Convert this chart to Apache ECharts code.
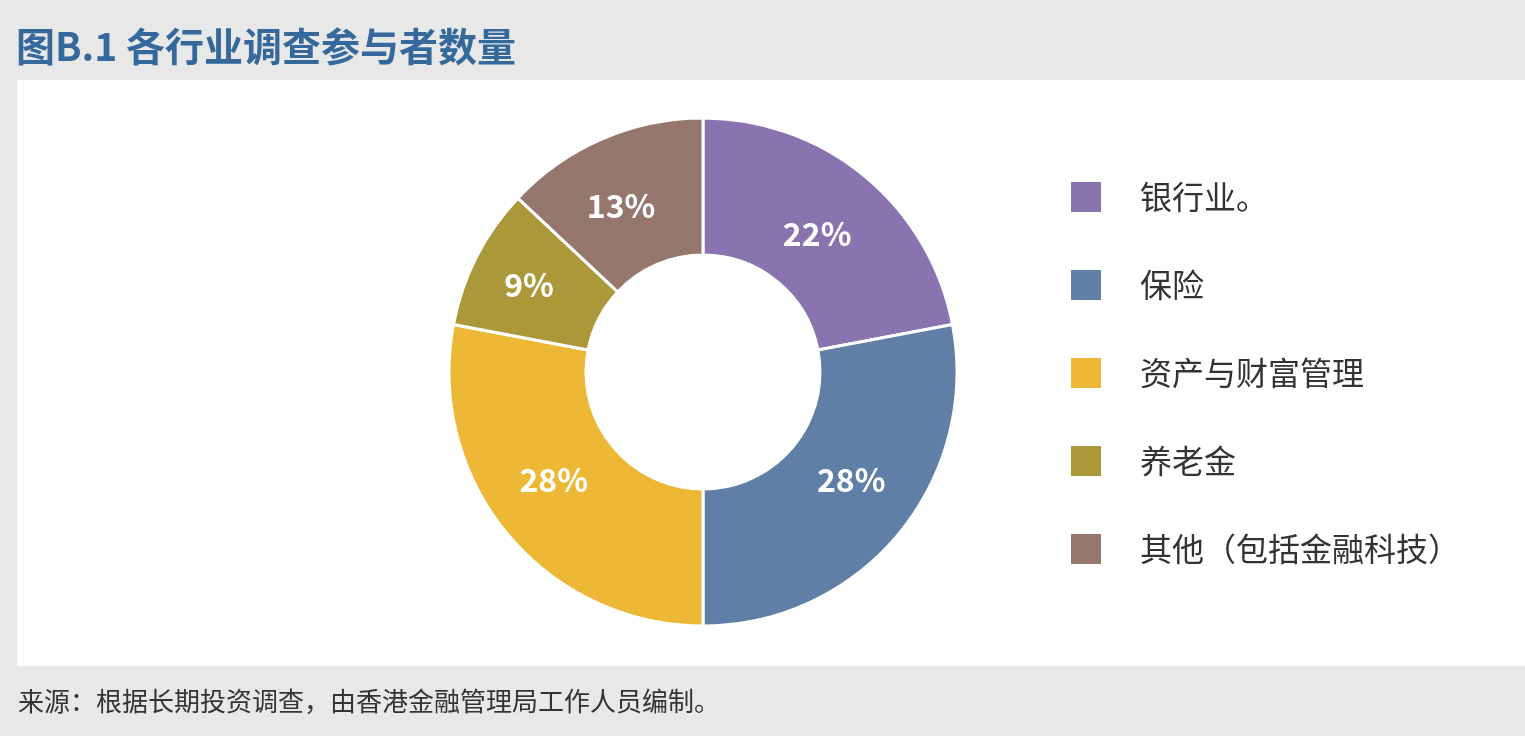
<!DOCTYPE html>
<html>
<head>
<meta charset="utf-8">
<script src="https://cdn.jsdelivr.net/npm/echarts@6/dist/echarts.min.js"></script>
<style>
  html, body { margin: 0; padding: 0; background: #e8e8e8; }
  #chart { width: 1525px; height: 736px; }
</style>
</head>
<body>
<div id="chart"></div>
<script>
var categories = ['银行业。', '保险', '资产与财富管理', '养老金', '其他（包括金融科技）'];
var shares = [22, 28, 28, 9, 13];
var colors = ['#8a74b0', '#5f7fa6', '#ecb836', '#ab9838', '#96776e'];
// small nudges so the percentage labels sit where the original puts them
var labelNudge = [[-6, 7], [3, -12], [-4, -12], [-6, -2], [-7, 7]];

var myChart = echarts.init(document.getElementById('chart'));
var font = '"Noto Sans CJK SC", "Noto Sans", sans-serif';

var pieData = [];
categories.forEach(function (name, i) {
    pieData.push({
        name: name,
        value: shares[i],
        itemStyle: { color: colors[i] },
        label: { offset: labelNudge[i] }
    });
});

var option = {
    backgroundColor: '#e8e8e8',
    graphic: [{
        type: 'rect',
        z: -10,
        shape: { x: 17, y: 80, width: 1508, height: 586 },
        style: { fill: '#ffffff' }
    }],
    title: [{
        text: '图B.1 各行业调查参与者数量',
        left: 11,
        top: 22,
        textStyle: { fontFamily: font, fontSize: 39, fontWeight: 'bold', color: '#36699b' }
    }, {
        text: '来源：根据长期投资调查，由香港金融管理局工作人员编制。',
        left: 13,
        top: 683,
        textStyle: { fontFamily: font, fontSize: 26, fontWeight: 'normal', color: '#333333' }
    }],
    legend: {
        orient: 'vertical',
        left: 1064,
        top: 175,
        itemWidth: 32,
        itemHeight: 32,
        itemGap: 54,
        icon: 'rect',
        textStyle: { fontFamily: font, fontSize: 32, color: '#333333', padding: [0, 0, 0, 33] },
        data: categories
    },
    series: [{
        type: 'pie',
        center: [703, 372],
        radius: [117, 254],
        startAngle: 90,
        clockwise: true,
        silent: true,
        itemStyle: { borderColor: '#ffffff', borderWidth: 3 },
        label: {
            show: true,
            position: 'inside',
            formatter: '{c}%',
            fontFamily: font,
            fontSize: 32,
            fontWeight: 'bold',
            color: '#ffffff'
        },
        labelLine: { show: false },
        data: pieData
    }]
};

myChart.setOption(option);
</script>
</body>
</html>
